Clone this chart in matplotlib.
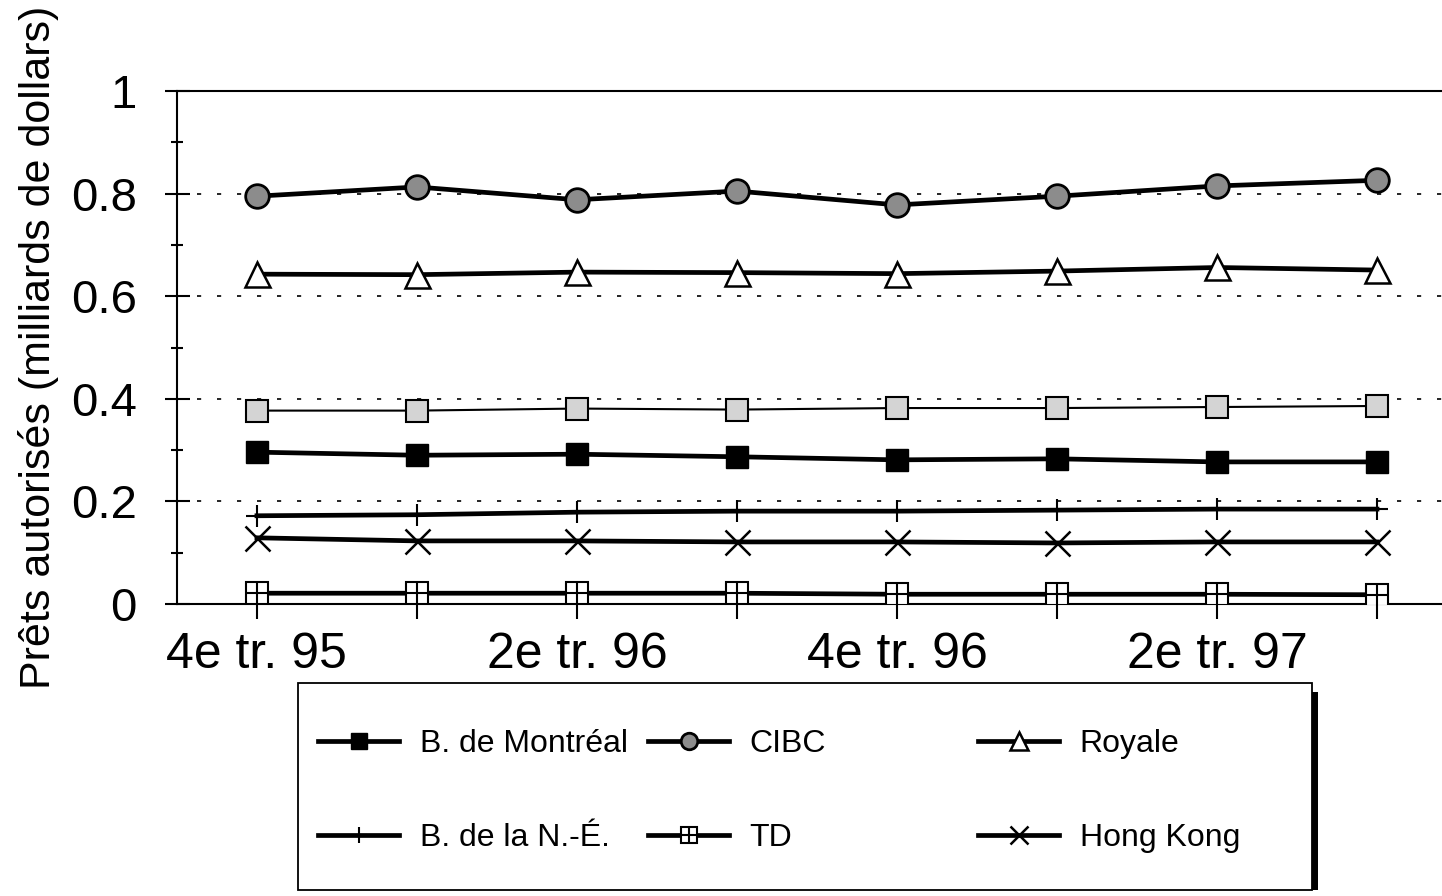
import numpy as np
import matplotlib
matplotlib.use("Agg")
import matplotlib.pyplot as plt
from matplotlib.patches import Rectangle
from matplotlib.legend_handler import HandlerTuple

plt.rcParams['font.family'] = ['Liberation Sans', 'DejaVu Sans']

# trimestres
trimestres = ["4e tr. 95", "1er tr. 96", "2e tr. 96", "3e tr. 96",
              "4e tr. 96", "1er tr. 97", "2e tr. 97", "3e tr. 97"]

# prêts autorisés (milliards de dollars)
montreal = [0.296, 0.290, 0.292, 0.287, 0.281, 0.283, 0.277, 0.277]
cibc = [0.795, 0.813, 0.788, 0.805, 0.778, 0.795, 0.815, 0.826]
royale = [0.643, 0.642, 0.647, 0.646, 0.644, 0.649, 0.656, 0.651]
nouvelle_ecosse = [0.172, 0.174, 0.179, 0.181, 0.181, 0.183, 0.185, 0.185]
td = [0.021, 0.021, 0.021, 0.021, 0.019, 0.019, 0.019, 0.018]
hong_kong = [0.129, 0.123, 0.123, 0.121, 0.121, 0.119, 0.121, 0.121]
autre = [0.377, 0.377, 0.381, 0.379, 0.382, 0.382, 0.384, 0.386]  # série grise, absente de la légende

x = np.arange(len(trimestres))

fig = plt.figure(figsize=(14.42, 8.96), dpi=100)
ax = fig.add_axes([0.1227, 0.3259, 0.8877, 0.5725])

lw = 3.4
ax.plot(x, autre, color='black', lw=1.5, marker='s', ms=16,
        mfc='#d4d4d4', mec='black', mew=1.5, label='_nolegend_', zorder=3)
l_mtl, = ax.plot(x, montreal, color='black', lw=lw, marker='s', ms=16,
                 mfc='black', mec='black', label='B. de Montréal', zorder=3)
l_cibc, = ax.plot(x, cibc, color='black', lw=lw, marker='o', ms=17,
                  mfc='#8c8c8c', mec='black', mew=2, label='CIBC', zorder=3)
l_roy, = ax.plot(x, royale, color='black', lw=lw, marker='^', ms=18,
                 mfc='white', mec='black', mew=1.8, label='Royale', zorder=3)
l_ne, = ax.plot(x, nouvelle_ecosse, color='black', lw=lw, marker='+', ms=16,
                mew=1.5, label='B. de la N.-É.', zorder=3)
l_td, = ax.plot(x, td, color='black', lw=lw, marker='s', ms=16,
                mfc='white', mec='black', mew=1.5, zorder=3)
l_td2, = ax.plot(x, td, color='none', marker='+', ms=16, mec='black',
                 mew=1.5, zorder=4)
l_hk, = ax.plot(x, hong_kong, color='black', lw=lw, marker='x', ms=18,
                mew=1.8, label='Hong Kong', zorder=3)

ax.set_xlim(-0.5, 7.5)
ax.set_ylim(0, 1)

# axes
for s in ['left', 'bottom', 'top', 'right']:
    ax.spines[s].set_linewidth(1.5)

ax.set_xticks(x)
ax.set_xticklabels([t if i % 2 == 0 else "" for i, t in enumerate(trimestres)])
ax.tick_params(axis='x', direction='out', length=11, width=1.5, labelsize=36, pad=9)

ax.set_yticks([0, 0.2, 0.4, 0.6, 0.8, 1])
ax.set_yticklabels(["0", "0.2", "0.4", "0.6", "0.8", "1"])
ax.set_yticks(np.arange(0.1, 1.0, 0.2), minor=True)
ax.tick_params(axis='y', which='major', direction='inout', length=18, width=1.5,
               labelsize=34, pad=20)
ax.tick_params(axis='y', which='minor', direction='inout', length=8, width=1.5)

ax.yaxis.grid(True, which='major', color='black', lw=1.2, linestyle=(0, (2.5, 9.5)))
ax.set_ylabel("Prêts autorisés (milliards de dollars)", fontsize=31)
ax.yaxis.set_label_coords(-0.092, 0.5)

# légende : cadre + ombre
fig.patches.append(Rectangle((298 / 1442, 1 - 890 / 896), 1014 / 1442, 207 / 896,
                             transform=fig.transFigure, fill=False,
                             edgecolor='black', lw=1.3))
fig.patches.append(Rectangle((1312 / 1442, 1 - 890 / 896), 6 / 1442, 198 / 896,
                             transform=fig.transFigure, facecolor='black',
                             edgecolor='none'))

colonnes = [
    ([l_mtl, l_ne], ['B. de Montréal', 'B. de la N.-É.'], 318),
    ([l_cibc, (l_td, l_td2)], ['CIBC', 'TD'], 648),
    ([l_roy, l_hk], ['Royale', 'Hong Kong'], 978),
]
for handles, labels, xpx in colonnes:
    leg = fig.legend(handles, labels, loc='center left',
                     bbox_to_anchor=(xpx / 1442, 1 - 791 / 896),
                     frameon=False, fontsize=23, borderpad=0, borderaxespad=0,
                     handlelength=2.55, handletextpad=0.63, labelspacing=2.0,
                     markerscale=0.7,
                     handler_map={tuple: HandlerTuple(ndivide=1, pad=0)})

fig.savefig("out.png", dpi=100)
